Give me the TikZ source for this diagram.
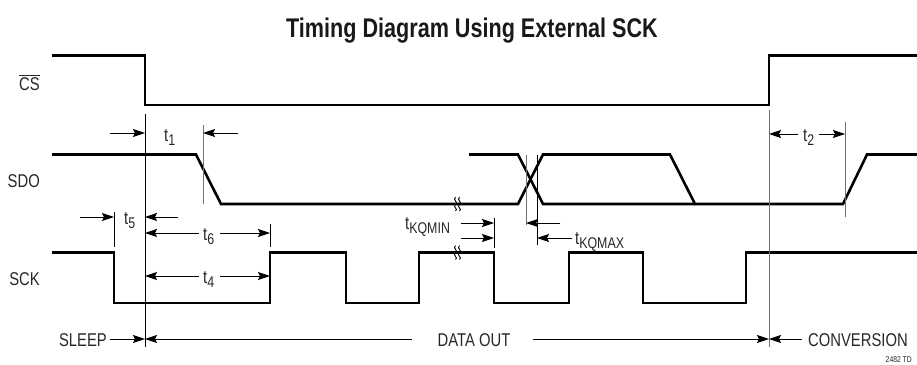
\documentclass[tikz,border=0pt]{standalone}
\usepackage{fontspec}
\setmainfont{Liberation Sans}[FakeStretch=0.8]
\usetikzlibrary{arrows.meta}
\newcommand{\tsb}[1]{t\raisebox{-4pt}{\fontsize{15.5}{16}\selectfont #1}}
\begin{document}
\begin{tikzpicture}[x=1pt,y=-1pt,
  wave/.style={line width=2.6pt, line join=miter},
  thinb/.style={line width=0.9pt, draw=black},
  thing/.style={line width=0.9pt, draw=black!55},
  dim/.style={line width=0.9pt, -{Stealth[length=12pt,width=8pt,inset=2pt]}},
  lbl/.style={font=\fontsize{18.5}{20}\selectfont, inner sep=0pt, text=black!85},
  tl/.style={lbl, anchor=base west},
  sq/.style={line width=0.9pt},
]
\useasboundingbox (0,0) rectangle (917,364);

% title
\node[font=\fontsize{27}{30}\selectfont\bfseries, anchor=base, inner sep=0pt, text=black!90] (title) at (472,37) {Timing Diagram Using External SCK};

% signal labels
\node[lbl, anchor=base east] (cs) at (40,90) {$\overline{\mbox{CS}}$};
\node[lbl, anchor=base east] (sdo) at (40,187) {SDO};
\node[lbl, anchor=base east] (sck) at (40,285) {SCK};

% waveforms
\draw[wave] (52,55.5) -- (145,55.5) -- (145,105) -- (769,105) -- (769,55.5) -- (917,55.5);
\draw[wave] (52,154.5) -- (196,154.5) -- (221,204) -- (518,204) -- (543,154.5) -- (670,154.5) -- (695,204) -- (843,204) -- (867,154.5) -- (917,154.5);
\draw[wave] (469,154.5) -- (518,154.5) -- (543,204) -- (695,204);
\draw[wave] (52,252.5) -- (114,252.5) -- (114,303) -- (270,303) -- (270,252.5) -- (346,252.5) -- (346,303) -- (419,303) -- (419,252.5) -- (494,252.5) -- (494,303) -- (569,303) -- (569,252.5) -- (643,252.5) -- (643,303) -- (746,303) -- (746,252.5) -- (917,252.5);

% break marks
\foreach \yy in {204,252.5}{
  \foreach \xx in {455.5,459.5}{
    \draw[sq] (\xx,\yy-7) .. controls (\xx-3.5,\yy-4) and (\xx+3.5,\yy-2) .. (\xx,\yy+0.5)
              .. controls (\xx-3.5,\yy+3) and (\xx+3.5,\yy+5) .. (\xx,\yy+7);
  }
}

% reference coordinates
\coordinate (csf) at (145,114);  \coordinate (csfb) at (145,347);
\coordinate (csr) at (769,110);  \coordinate (csrb) at (769,347);
\coordinate (t1e) at (203,125);  \coordinate (t1eb) at (203,204);
\coordinate (kq1) at (526,155);  \coordinate (kq1b) at (526,225);
\coordinate (kq2) at (537,155);  \coordinate (kq2b) at (537,245);
\coordinate (kqm) at (494,218);  \coordinate (kqmb) at (494,248);
\coordinate (t5e) at (114,212);  \coordinate (t5eb) at (114,247);
\coordinate (t6e) at (270,224);  \coordinate (t6eb) at (270,247);
\coordinate (t2e) at (845,122);  \coordinate (t2eb) at (845,217);

\draw[thinb] (csf) -- (csfb);
\draw[thing] (csr) -- (csrb);
\draw[thing] (t1e) -- (t1eb);
\draw[thing] (kq1) -- (kq1b);
\draw[thinb] (kq2) -- (kq2b);
\draw[thinb] (kqm) -- (kqmb);
\draw[thinb] (t5e) -- (t5eb);
\draw[thinb] (t6e) -- (t6eb);
\draw[thing] (t2e) -- (t2eb);

% timing labels
\node[tl] (t1) at (164,141) {\tsb{1}};
\node[tl] (t5) at (124,224) {\tsb{5}};
\node[tl] (t6) at (203,240) {\tsb{6}};
\node[tl] (t4) at (203,283) {\tsb{4}};
\node[tl] (t2) at (803,141) {\tsb{2}};
\node[tl] (tmin) at (405,229) {\tsb{KQMIN}};
\node[tl] (tmax) at (575,244) {\tsb{KQMAX}};

% dimension arrows
\draw[dim] (110,133) -- (145,133);
\draw[dim] (238,133) -- (203,133);
\draw[dim] (80,217) -- (114,217);
\draw[dim] (178,217) -- (145,217);
\draw[dim] (199,233) -- (145,233);
\draw[dim] (220,233) -- (270,233);
\draw[dim] (199,276) -- (145,276);
\draw[dim] (220,276) -- (270,276);
\draw[dim] (798,134) -- (769,134);
\draw[dim] (819,134) -- (845,134);
\draw[dim] (461,223) -- (494,223);
\draw[dim] (461,238) -- (494,238);
\draw[dim] (560,223) -- (526,223);
\draw[dim] (572,238) -- (537,238);

% phase labels
\node[lbl, anchor=base east] (sleep) at (107,346) {SLEEP};
\node[lbl, anchor=base] (dout) at (474,346) {DATA OUT};
\node[lbl, anchor=base west] (conv) at (808,346) {CONVERSION};
\draw[dim] (110,339) -- (145,339);
\draw[dim] (412,339) -- (145,339);
\draw[dim] (533,339) -- (769,339);
\draw[dim] (802,339) -- (769,339);

\node[font=\fontsize{8.5}{9}\selectfont, anchor=base east, inner sep=0pt, text=black!85] (td) at (912,362) {2482 TD};
\end{tikzpicture}
\end{document}
